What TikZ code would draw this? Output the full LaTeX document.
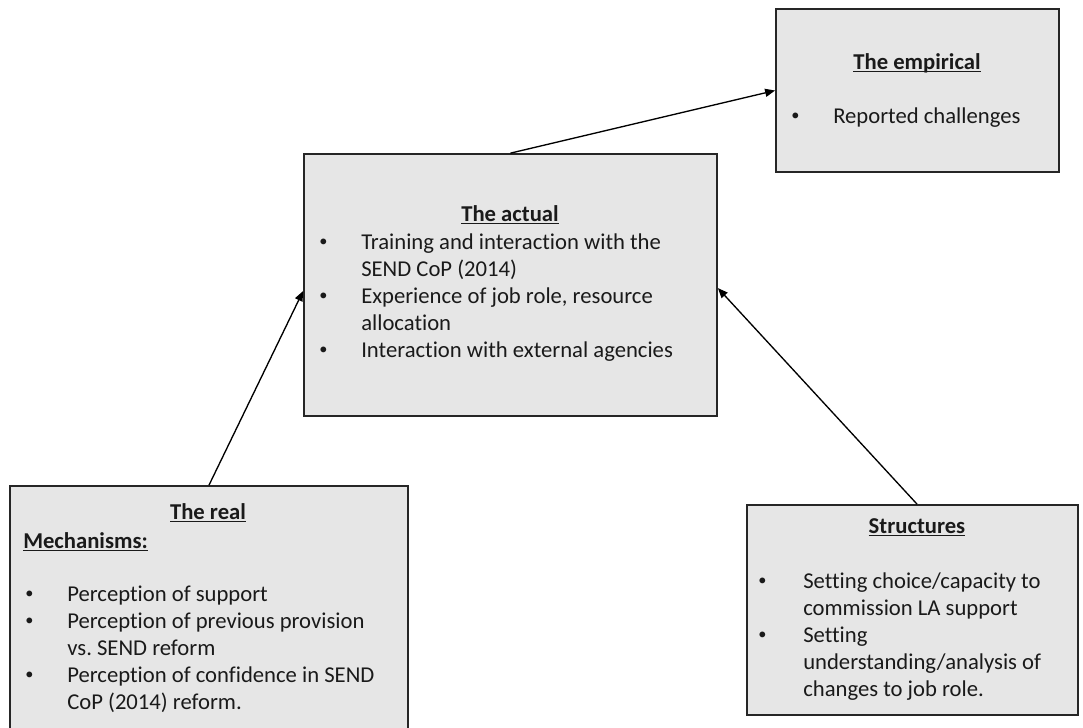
\documentclass[tikz,border=0pt]{standalone}
\usepackage{fontspec}
\setmainfont{Carlito}[Ligatures=NoCommon]
\usetikzlibrary{arrows.meta,fit}
\frenchspacing

\definecolor{boxfill}{HTML}{E6E6E6}
\definecolor{boxline}{HTML}{262626}
\definecolor{ink}{HTML}{1A1A1A}

% bold heading with an underline at a fixed depth
\newcommand{\heading}[1]{\textbf{\setbox0\hbox{#1}\rlap{\rule[-2.4pt]{\wd0}{0.9pt}}\box0}}
\newcommand{\blt}{\raisebox{0.12em}{\scalebox{0.72}{\textbullet}}}
% two-column bullet list: bullet column of given width, then the text
\newenvironment{bullets}[1]{\begin{tabular}[t]{@{}p{#1}@{}l@{}}}{\end{tabular}}

\begin{document}
\begin{tikzpicture}[x=0.75pt,y=-0.75pt,
  box/.style={draw=boxline, line width=1.3pt, fill=boxfill, inner sep=0pt},
  txt/.style={inner sep=0pt, anchor=base west, text=ink, font=\fontsize{17}{20.25}\selectfont},
  title/.style={inner sep=0pt, anchor=base, text=ink, font=\fontsize{17}{20.25}\selectfont},
  link/.style={draw=black, line width=1pt, -{Triangle[length=7.5pt,width=6pt]}}]
\useasboundingbox (0,0) rectangle (1083,728);
\clip (0,0) rectangle (1083,728);

% --- boxes ---
\node[box, fit={(776,9) (1059,172)}] (empirical) {};
\node[box, fit={(304,154) (717,416)}] (actual) {};
\node[box, fit={(10,486) (408,745)}] (real) {};
\node[box, fit={(747,505) (1078,715)}] (structures) {};

% --- the empirical ---
\node[title] (empiricalhead) at (917,69) {\heading{The empirical}};
\node[txt] (empiricallist) at (791,123) {\begin{bullets}{31.5pt}
\blt & Reported challenges
\end{bullets}};

% --- the actual ---
\node[title] (actualhead) at (510,221) {\heading{The actual}};
\node[txt] (actuallist) at (319,249) {\begin{bullets}{31.5pt}
\blt & Training and interaction with the\\
     & SEND CoP (2014)\\
\blt & Experience of job role, resource\\
     & allocation\\
\blt & Interaction with external agencies
\end{bullets}};

% --- the real ---
\node[title] (realhead) at (208,519) {\heading{The real}};
\node[txt] (realmech) at (23,548) {\heading{Mechanisms:}};
\node[txt] (reallist) at (25,601) {\begin{bullets}{31.5pt}
\blt & Perception of support\\
\blt & Perception of previous provision\\
     & vs. SEND reform\\
\blt & Perception of confidence in SEND\\
     & CoP (2014) reform.
\end{bullets}};

% --- structures ---
\node[title] (structureshead) at (917,533) {\heading{Structures}};
\node[txt] (structureslist) at (758,588) {\begin{bullets}{33.75pt}
\blt & Setting choice/capacity to\\
     & commission LA support\\
\blt & Setting\\
     & understanding/analysis of\\
     & changes to job role.
\end{bullets}};

% --- connectors ---
\draw[link] (actual.north) -- (empirical.west);
\draw[link] (real.north) -- ([yshift=-4.5pt]actual.west);
\draw[link] ([xshift=3.4pt]structures.north) -- ([yshift=-2.3pt]actual.east);
\end{tikzpicture}
\end{document}
